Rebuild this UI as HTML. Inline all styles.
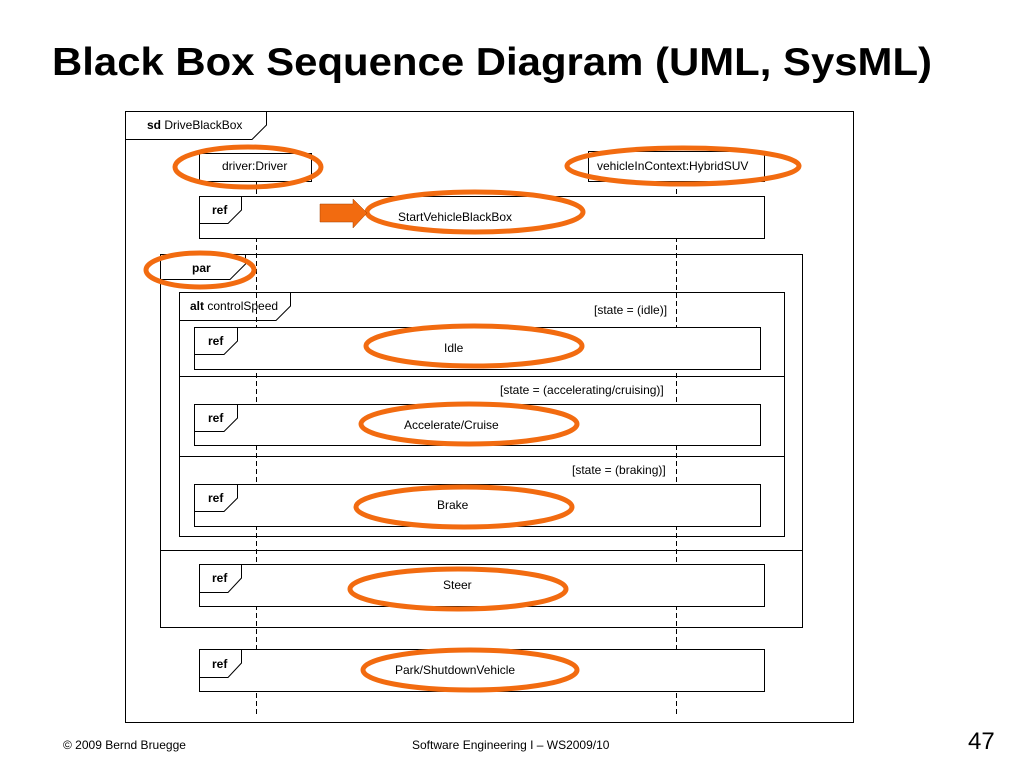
<!DOCTYPE html>
<html><head><meta charset="utf-8"><style>
html,body{margin:0;padding:0;background:#fff;}
svg{display:block;font-family:"Liberation Sans",Arial,sans-serif;}
</style></head><body>
<svg width="1024" height="768" viewBox="0 0 1024 768" xmlns="http://www.w3.org/2000/svg">
<text x="52" y="75" font-size="39" font-weight="bold" fill="#000" textLength="880" lengthAdjust="spacingAndGlyphs">Black Box Sequence Diagram (UML, SysML)</text>
<g fill="none" stroke="#000" stroke-width="1">
<rect x="125.5" y="111.5" width="728" height="611"/>
<path d="M125.5 139.5 H252 L266.5 125 V111.5"/>
<line x1="256.5" y1="181" x2="256.5" y2="716" stroke-dasharray="5,3"/>
<line x1="676.5" y1="181" x2="676.5" y2="716" stroke-dasharray="5,3"/>
</g>
<g fill="#fff" stroke="#000" stroke-width="1">
<rect x="199.5" y="153.5" width="112" height="28"/>
<rect x="588.5" y="151.5" width="176" height="30"/>
<rect x="199.5" y="196.5" width="565" height="42"/>
</g>
<g fill="none" stroke="#000" stroke-width="1">
<path d="M199.5 223.5 H228 L241.5 210 V196.5"/>
<rect x="160.5" y="254.5" width="642" height="373"/>
<path d="M160.5 279.5 H230 L245.5 264 V254.5"/>
<line x1="160" y1="550.5" x2="803" y2="550.5"/>
<rect x="179.5" y="292.5" width="605" height="244"/>
<path d="M179.5 320.5 H276 L290.5 306 V292.5"/>
<line x1="179" y1="376.5" x2="785" y2="376.5"/>
<line x1="179" y1="456.5" x2="785" y2="456.5"/>
</g>
<g fill="#fff" stroke="#000" stroke-width="1">
<rect x="194.5" y="327.5" width="566" height="42"/>
<rect x="194.5" y="404.5" width="566" height="41"/>
<rect x="194.5" y="484.5" width="566" height="42"/>
<rect x="199.5" y="564.5" width="565" height="42"/>
<rect x="199.5" y="649.5" width="565" height="42"/>
</g>
<g fill="none" stroke="#000" stroke-width="1">
<path d="M194.5 354.5 H224 L237.5 341 V327.5"/>
<path d="M194.5 431.5 H224 L237.5 418 V404.5"/>
<path d="M194.5 511.5 H224 L237.5 498 V484.5"/>
<path d="M199.5 592.5 H228 L241.5 578 V564.5"/>
<path d="M199.5 677.5 H228 L241.5 663 V649.5"/>
</g>
<g font-size="12" fill="#000">
<text x="147" y="129"><tspan font-weight="bold">sd</tspan> DriveBlackBox</text>
<text x="222" y="170">driver:Driver</text>
<text x="597" y="170">vehicleInContext:HybridSUV</text>
<text x="212" y="214" font-weight="bold">ref</text>
<text x="398" y="221">StartVehicleBlackBox</text>
<text x="192" y="272" font-weight="bold">par</text>
<text x="190" y="310"><tspan font-weight="bold">alt</tspan> controlSpeed</text>
<text x="594" y="314">[state = (idle)]</text>
<text x="208" y="345" font-weight="bold">ref</text>
<text x="444" y="352">Idle</text>
<text x="500" y="394">[state = (accelerating/cruising)]</text>
<text x="208" y="422" font-weight="bold">ref</text>
<text x="404" y="429">Accelerate/Cruise</text>
<text x="572" y="474">[state = (braking)]</text>
<text x="208" y="502" font-weight="bold">ref</text>
<text x="437" y="509">Brake</text>
<text x="212" y="582" font-weight="bold">ref</text>
<text x="443" y="589">Steer</text>
<text x="212" y="668" font-weight="bold">ref</text>
<text x="395" y="674">Park/ShutdownVehicle</text>
</g>
<g fill="none" stroke="#F26B10" stroke-width="5">
<ellipse cx="248" cy="167" rx="73" ry="20"/>
<ellipse cx="683" cy="166" rx="116" ry="18"/>
<ellipse cx="475" cy="212" rx="108" ry="20"/>
<ellipse cx="200" cy="270" rx="54" ry="17"/>
<ellipse cx="474" cy="346" rx="108" ry="20"/>
<ellipse cx="469" cy="424" rx="108" ry="20"/>
<ellipse cx="464" cy="507" rx="108" ry="20"/>
<ellipse cx="458" cy="589" rx="108" ry="20"/>
<ellipse cx="470" cy="670" rx="107" ry="20"/>
</g>
<polygon points="320,204 353,204 353,199 367,213 353,228 353,222 320,222" fill="#F26B10" stroke="#a04000" stroke-width="0.5"/>
<g font-size="12" fill="#000">
<text x="63" y="749">© 2009 Bernd Bruegge</text>
<text x="412" y="749">Software Engineering I – WS2009/10</text>
</g>
<text x="968" y="749" font-size="24" fill="#000">47</text>
</svg>
</body></html>
